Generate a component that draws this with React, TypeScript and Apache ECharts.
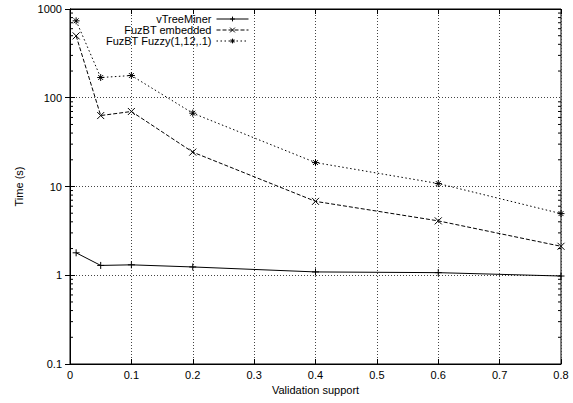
import React, { useEffect, useRef } from "react";
import * as echarts from "echarts";

const supports = [0.01, 0.05, 0.1, 0.2, 0.4, 0.6, 0.8];
const vTreeMiner = [1.79, 1.29, 1.31, 1.24, 1.09, 1.07, 0.98];
const fuzEmbedded = [498, 63, 70, 24.4, 6.8, 4.1, 2.12];
const fuzFuzzy = [736, 169, 178, 67, 18.6, 10.8, 4.95];
const seriesNames = ["vTreeMiner", "FuzBT embedded", "FuzBT Fuzzy(1,12,.1)"];
const yDecades = [0.1, 1, 10, 100];
const minorMultipliers = [2, 3, 4, 5, 6, 7, 8, 9];

const minorTickValues: number[] = [];
yDecades.forEach((d) => minorMultipliers.forEach((m) => minorTickValues.push(+(d * m).toPrecision(3))));

const FONT = "'Liberation Sans', Arial, sans-serif";

const sym = {
  plus: "path://M0,5L10,5M5,0L5,10",
  cross: "path://M0,0L10,10M10,0L0,10",
  star: "path://M0,5L10,5M5,0L5,10M1.5,1.5L8.5,8.5M8.5,1.5L1.5,8.5",
};

export default function App() {
  const ref = useRef<HTMLDivElement>(null);
  useEffect(() => {
    if (!ref.current) return;
    const chart = echarts.init(ref.current, null, { renderer: "svg" });
    const toPairs = (vals: number[]) => supports.map((x, i) => [x, vals[i]]);
    const lineSeries = (name: string, vals: number[], symbol: string, dash: any) => ({
      name,
      type: "line",
      data: toPairs(vals),
      symbol,
      symbolSize: 7,
      showSymbol: true,
      lineStyle: { color: "#000", width: 1, type: dash },
      itemStyle: { color: "#000", borderColor: "#000", borderWidth: 1 },
      emphasis: { disabled: true },
      z: 5,
    });
    const legendTops = [13, 24, 35];
    const axisLabelStyle = { color: "#000", fontSize: 11, fontFamily: FONT };
    const splitDotted = { show: true, lineStyle: { color: "#444", type: [1, 2], width: 1 } };
    chart.setOption({
      animation: false,
      textStyle: { fontFamily: FONT },
      grid: { left: 70, right: 12, top: 9, bottom: 39, show: true, borderColor: "#000", borderWidth: 1 },
      legend: seriesNames.map((n, i) => ({
        data: [n],
        orient: "vertical",
        align: "right",
        right: 324,
        top: legendTops[i],
        padding: 0,
        itemWidth: 32,
        itemHeight: 6,
        itemGap: 0,
        selectedMode: false,
        lineStyle: { width: 1 },
        itemStyle: { borderWidth: 1 },
        textStyle: { color: "#000", fontSize: 11, fontFamily: FONT, lineHeight: 12 },
      })),
      xAxis: [
        {
          type: "value",
          min: 0,
          max: 0.8,
          interval: 0.1,
          name: "Validation support",
          nameLocation: "middle",
          nameGap: 20,
          nameTextStyle: { color: "#000", fontSize: 11, fontFamily: FONT },
          axisLine: { show: true, lineStyle: { color: "#000", width: 1 } },
          axisTick: { show: true, inside: true, length: 5, lineStyle: { color: "#000" } },
          axisLabel: { ...axisLabelStyle, margin: 5, formatter: (v: number) => String(+v.toFixed(1)) },
          splitLine: splitDotted,
        },
        {
          type: "value",
          position: "top",
          min: 0,
          max: 0.8,
          interval: 0.1,
          axisLine: { show: true, lineStyle: { color: "#000", width: 1 } },
          axisTick: { show: true, inside: true, length: 5, lineStyle: { color: "#000" } },
          axisLabel: { show: false },
          splitLine: { show: false },
        },
      ],
      yAxis: [
        {
          type: "log",
          logBase: 10,
          min: 0.1,
          max: 1000,
          name: "Time (s)",
          nameLocation: "middle",
          nameGap: 46,
          nameTextStyle: { color: "#000", fontSize: 11, fontFamily: FONT },
          axisLine: { show: true, lineStyle: { color: "#000", width: 1 } },
          axisTick: { show: true, inside: true, length: 5, lineStyle: { color: "#000" } },
          axisLabel: { ...axisLabelStyle, margin: 8, formatter: (v: number) => String(+v.toPrecision(3)) },
          splitLine: splitDotted,
        },
        {
          type: "log",
          logBase: 10,
          min: 0.1,
          max: 1000,
          position: "right",
          axisLine: { show: true, lineStyle: { color: "#000", width: 1 } },
          axisTick: { show: true, inside: true, length: 5, lineStyle: { color: "#000" } },
          axisLabel: { show: false },
          splitLine: { show: false },
        },
      ],
      series: [
        lineSeries(seriesNames[0], vTreeMiner, sym.plus, "solid"),
        lineSeries(seriesNames[1], fuzEmbedded, sym.cross, [4, 2]),
        lineSeries(seriesNames[2], fuzFuzzy, sym.star, [1.5, 2.5]),
        {
          type: "custom",
          silent: true,
          data: minorTickValues.map((v) => [0, v]),
          renderItem: (params: any, api: any) => {
            const y = api.coord([0, api.value(1)])[1];
            const cs = params.coordSys;
            return {
              type: "group",
              children: [
                { type: "line", shape: { x1: cs.x, y1: y, x2: cs.x + 3, y2: y }, style: { stroke: "#000", lineWidth: 1 } },
                {
                  type: "line",
                  shape: { x1: cs.x + cs.width - 3, y1: y, x2: cs.x + cs.width, y2: y },
                  style: { stroke: "#000", lineWidth: 1 },
                },
              ],
            };
          },
          z: 3,
        },
      ],
    });
    return () => chart.dispose();
  }, []);
  return <div ref={ref} style={{ position: "absolute", left: 0, top: 0, width: 573, height: 403 }} />;
}
